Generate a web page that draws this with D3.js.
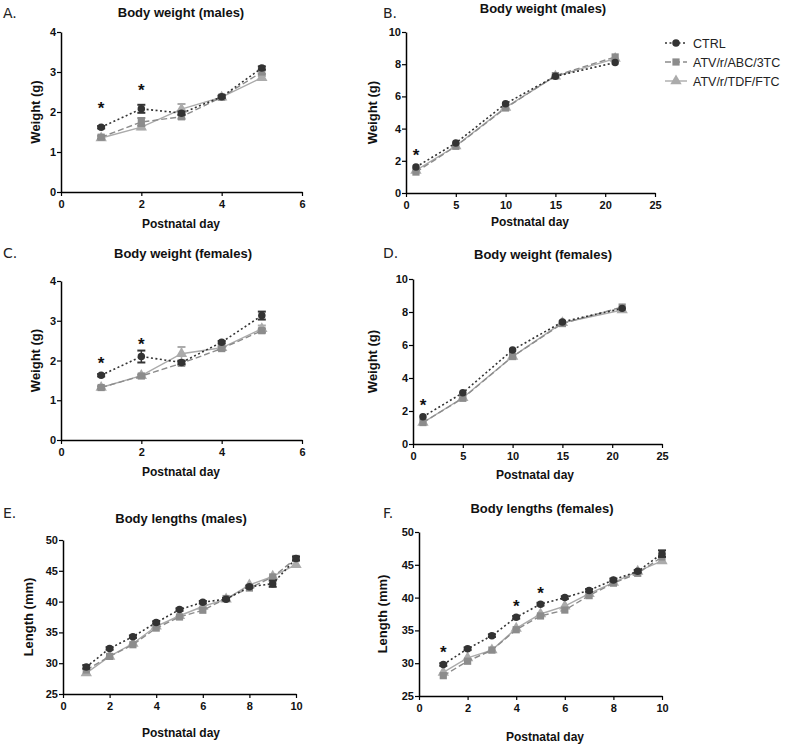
<!DOCTYPE html>
<html><head><meta charset="utf-8">
<script src="https://cdn.jsdelivr.net/npm/d3@7"></script>
<style>body{margin:0;background:#fff}svg{display:block}</style>
</head><body>
<script>
// ---- data ----
const seriesNames = ["CTRL", "ATV/r/ABC/3TC", "ATV/r/TDF/FTC"];
const daysShort = [1, 2, 3, 4, 5];
const daysLong = [1, 5, 10, 15, 21];
const daysLen = [1, 2, 3, 4, 5, 6, 7, 8, 9, 10];

// A: body weight males, days 1-5
const aCtrl = [1.62, 2.08, 1.97, 2.38, 3.1];
const aAbc  = [1.37, 1.75, 1.88, 2.37, 3.0];
const aTdf  = [1.35, 1.62, 2.07, 2.37, 2.86];
const aCtrlErr = [0.03, 0.1, 0.04, 0.03, 0.04];
const aAbcErr  = [0.04, 0.1, 0.05, 0.03, 0.05];
const aTdfErr  = [0.03, 0.05, 0.13, 0.03, 0.04];
const aStars = [[1, 2.12], [2, 2.58]];

// B: body weight males, days 1-21
const bCtrl = [1.61, 3.1, 5.55, 7.25, 8.1];
const bAbc  = [1.3, 2.9, 5.28, 7.29, 8.45];
const bTdf  = [1.4, 2.92, 5.32, 7.25, 8.35];
const bStars = [[1, 2.4]];

// C: body weight females, days 1-5
const cCtrl = [1.63, 2.1, 1.95, 2.46, 3.13];
const cAbc  = [1.32, 1.61, 1.93, 2.3, 2.75];
const cTdf  = [1.32, 1.62, 2.17, 2.32, 2.8];
const cCtrlErr = [0.03, 0.15, 0.04, 0.03, 0.1];
const cAbcErr  = [0.03, 0.03, 0.05, 0.04, 0.05];
const cTdfErr  = [0.03, 0.03, 0.17, 0.05, 0.08];
const cStars = [[1, 1.95], [2, 2.45]];

// D: body weight females, days 1-21
const dCtrl = [1.65, 3.1, 5.7, 7.4, 8.22];
const dAbc  = [1.3, 2.77, 5.3, 7.3, 8.3];
const dTdf  = [1.3, 2.8, 5.3, 7.35, 8.12];
const dStars = [[1, 2.45]];

// E: body lengths males, days 1-10
const eCtrl = [29.4, 32.4, 34.3, 36.6, 38.7, 39.9, 40.4, 42.4, 42.9, 47.0];
const eAbc  = [28.9, 31.1, 33.0, 35.7, 37.5, 38.6, 40.5, 42.2, 44.0, 47.0];
const eTdf  = [28.4, 31.1, 33.2, 36.0, 37.7, 39.2, 40.4, 42.7, 44.1, 46.0];
const eCtrlErr = [0.3, 0.2, 0.2, 0.2, 0.2, 0.2, 0.2, 0.2, 0.5, 0.3];
const eStars = [];

// F: body lengths females, days 1-10
const fCtrl = [29.8, 32.2, 34.2, 37.0, 39.0, 40.0, 41.1, 42.7, 44.0, 46.7];
const fAbc  = [28.1, 30.3, 32.0, 35.1, 37.2, 38.1, 40.3, 42.2, 43.7, 46.2];
const fTdf  = [28.6, 30.8, 32.0, 35.3, 37.5, 38.7, 40.6, 42.3, 44.0, 45.6];
const fCtrlErr = [0.2, 0.2, 0.2, 0.2, 0.2, 0.2, 0.2, 0.2, 0.2, 0.5];
const fStars = [[1, 31.8], [4, 38.9], [5, 40.8]];

const xTicksShort = [0, 2, 4, 6];
const xTicksLong = [0, 5, 10, 15, 20, 25];
const xTicksLen = [0, 2, 4, 6, 8, 10];
const yTicksW4 = [0, 1, 2, 3, 4];
const yTicksW10 = [0, 2, 4, 6, 8, 10];
const yTicksL = [25, 30, 35, 40, 45, 50];

// ---- layout ----
const W = 788, H = 744;
const svg = d3.select("body").append("svg").attr("width", W).attr("height", H)
  .style("font-family", "'Liberation Sans', Arial, sans-serif");

const zeros = a => a.map(() => 0);

const panels = [
  {lab:"A.", lx:3, ly:18, title:"Body weight (males)", tx:181, ty:17, ytitle:"Weight (g)", ytx:40, xtx:181, xty:228,
   x0:61, x1:302, y0:192, y1:32, xd:[0,6], yd:[0,4], xt:xTicksShort, yt:yTicksW4, days:daysShort,
   s:[aCtrl,aAbc,aTdf], e:[aCtrlErr,aAbcErr,aTdfErr], stars:aStars},
  {lab:"B.", lx:383, ly:18, title:"Body weight (males)", tx:543, ty:13, ytitle:"Weight (g)", ytx:377, xtx:530, xty:226,
   x0:406, x1:655, y0:193, y1:32, xd:[0,25], yd:[0,10], xt:xTicksLong, yt:yTicksW10, days:daysLong,
   s:[bCtrl,bAbc,bTdf], e:[zeros(bCtrl),zeros(bAbc),zeros(bTdf)], stars:bStars, legend:true},
  {lab:"C.", lx:3, ly:258, title:"Body weight (females)", tx:183, ty:258, ytitle:"Weight (g)", ytx:40, xtx:181, xty:476,
   x0:61, x1:302, y0:440, y1:281, xd:[0,6], yd:[0,4], xt:xTicksShort, yt:yTicksW4, days:daysShort,
   s:[cCtrl,cAbc,cTdf], e:[cCtrlErr,cAbcErr,cTdfErr], stars:cStars},
  {lab:"D.", lx:383, ly:258, title:"Body weight (females)", tx:543, ty:259, ytitle:"Weight (g)", ytx:377, xtx:535, xty:479,
   x0:413, x1:662, y0:444, y1:279, xd:[0,25], yd:[0,10], xt:xTicksLong, yt:yTicksW10, days:daysLong,
   s:[dCtrl,dAbc,dTdf], e:[zeros(dCtrl),zeros(dAbc),zeros(dTdf)], stars:dStars},
  {lab:"E.", lx:3, ly:518, title:"Body lengths (males)", tx:181, ty:523, ytitle:"Length (mm)", ytx:33, xtx:181, xty:737,
   x0:63, x1:296, y0:694, y1:540, xd:[0,10], yd:[25,50], xt:xTicksLen, yt:yTicksL, days:daysLen,
   s:[eCtrl,eAbc,eTdf], e:[eCtrlErr,zeros(eAbc),zeros(eTdf)], stars:eStars},
  {lab:"F.", lx:383, ly:518, title:"Body lengths (females)", tx:542, ty:513, ytitle:"Length (mm)", ytx:387, xtx:545, xty:741,
   x0:419, x1:662, y0:696, y1:532, xd:[0,10], yd:[25,50], xt:xTicksLen, yt:yTicksL, days:daysLen,
   s:[fCtrl,fAbc,fTdf], e:[fCtrlErr,zeros(fAbc),zeros(fTdf)], stars:fStars}
];

const colors = ["#333333", "#8c8c8c", "#ababab"];
const dashes = ["2,2.5", "6,3", null];
const shapes = [d3.symbolCircle, d3.symbolSquare, d3.symbolTriangle];
const sizes = [44, 52, 56];

panels.forEach(p => {
  const g = svg.append("g");
  const x = d3.scaleLinear().domain(p.xd).range([p.x0, p.x1]);
  const y = d3.scaleLinear().domain(p.yd).range([p.y0, p.y1]);

  g.append("text").attr("x", p.lx).attr("y", p.ly).text(p.lab)
    .attr("fill", "#222").style("font-family", "'DejaVu Sans', sans-serif").attr("font-size", 14);
  g.append("text").attr("x", p.tx).attr("y", p.ty).attr("text-anchor", "middle")
    .attr("font-size", 13).attr("font-weight", "bold").attr("fill", "#111").text(p.title);

  const xa = g.append("g").attr("transform", `translate(0,${p.y0})`)
    .call(d3.axisBottom(x).tickValues(p.xt).tickSize(4).tickSizeOuter(0).tickFormat(d3.format("d")));
  const ya = g.append("g").attr("transform", `translate(${p.x0},0)`)
    .call(d3.axisLeft(y).tickValues(p.yt).tickSize(4).tickSizeOuter(0).tickFormat(d3.format("d")));
  [xa, ya].forEach(a => {
    a.select(".domain").attr("stroke", "#000").attr("stroke-width", 1.5);
    a.selectAll(".tick line").attr("stroke", "#000").attr("stroke-width", 1.2);
    a.selectAll(".tick text").attr("font-size", 11).attr("font-weight", "bold").attr("fill", "#111")
      .style("font-family", "'Liberation Sans', Arial, sans-serif");
  });
  xa.selectAll(".tick line").attr("y2", 4);
  xa.selectAll(".tick text").attr("dy", "0.85em");
  ya.selectAll(".tick text").attr("x", -5);

  g.append("text").attr("x", p.xtx).attr("y", p.xty).attr("text-anchor", "middle")
    .attr("font-size", 12).attr("font-weight", "bold").attr("fill", "#111").text("Postnatal day");
  g.append("text").attr("transform", `translate(${p.ytx},${(p.y0 + p.y1) / 2}) rotate(-90)`)
    .attr("text-anchor", "middle").attr("font-size", 13).attr("font-weight", "bold").attr("fill", "#111").text(p.ytitle);

  // series drawn back to front: TDF, ABC, CTRL
  [2, 1, 0].forEach(k => {
    const vals = p.s[k], errs = p.e[k];
    const pts = p.days.map((d, i) => ({d, v: vals[i], e: errs[i]}));
    const line = d3.line().x(q => x(q.d)).y(q => y(q.v));
    g.append("path").datum(pts).attr("d", line).attr("fill", "none")
      .attr("stroke", colors[k]).attr("stroke-width", k === 0 ? 1.6 : 1.4)
      .attr("stroke-dasharray", dashes[k]);
    // error bars
    pts.forEach(q => {
      if (!q.e) return;
      const ex = x(q.d), yt = y(q.v + q.e), yb = y(q.v - q.e);
      g.append("line").attr("x1", ex).attr("x2", ex).attr("y1", yt).attr("y2", yb)
        .attr("stroke", colors[k]).attr("stroke-width", 1.5);
      [yt, yb].forEach(yy => g.append("line").attr("x1", ex - 4).attr("x2", ex + 4).attr("y1", yy).attr("y2", yy)
        .attr("stroke", colors[k]).attr("stroke-width", 2));
    });
    g.selectAll(null).data(pts).enter().append("path")
      .attr("d", d3.symbol().type(shapes[k]).size(sizes[k]))
      .attr("transform", q => `translate(${x(q.d)},${y(q.v)})`)
      .attr("fill", colors[k]);
  });

  p.stars.forEach(st => {
    g.append("text").attr("x", x(st[0])).attr("y", y(st[1]) + 7).attr("text-anchor", "middle")
      .attr("font-size", 17).attr("font-weight", "bold").attr("fill", "#111").text("*");
  });

  if (p.legend) {
    const ly0 = 43, dy = 19;
    seriesNames.forEach((nm, k) => {
      const yy = ly0 + k * dy;
      g.append("line").attr("x1", 665).attr("x2", 687).attr("y1", yy).attr("y2", yy)
        .attr("stroke", colors[k]).attr("stroke-width", 1.4).attr("stroke-dasharray", dashes[k]);
      g.append("path").attr("d", d3.symbol().type(shapes[k]).size(sizes[k]))
        .attr("transform", `translate(676,${yy})`).attr("fill", colors[k]);
      g.append("text").attr("x", 693).attr("y", yy + 4.5).attr("font-size", 12.5).attr("fill", "#222").text(nm);
    });
  }
});
</script>
</body></html>
